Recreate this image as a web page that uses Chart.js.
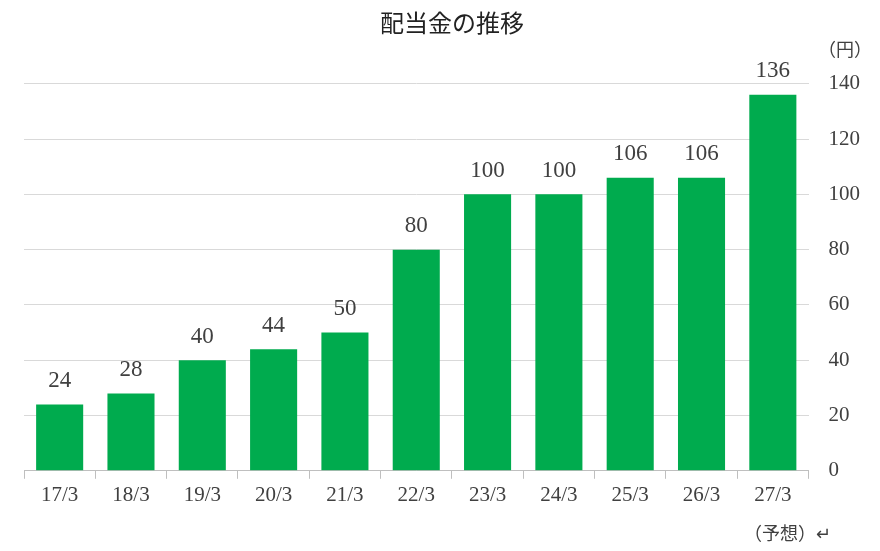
<!DOCTYPE html>
<html><head><meta charset="utf-8">
<script src="https://cdn.jsdelivr.net/npm/chart.js@4/dist/chart.umd.min.js"></script>
<style>body{margin:0;background:#fff}#wrap{width:880px;height:551px}</style>
</head><body><div id="wrap"><canvas id="c"></canvas></div>
<script>
const categories = ['17/3','18/3','19/3','20/3','21/3','22/3','23/3','24/3','25/3','26/3','27/3'];
const dividends = [24, 28, 40, 44, 50, 80, 100, 100, 106, 106, 136];
const tickValues = [0, 20, 40, 60, 80, 100, 120, 140];

const numFont = '"Liberation Serif", "Noto Sans CJK JP", serif';
const jpFont = '"Noto Sans CJK JP", sans-serif';

// labels above bars and extra text
const extras = {
  id: 'extras',
  afterDatasetsDraw(chart) {
    const ctx = chart.ctx;
    const meta = chart.getDatasetMeta(0);
    ctx.save();
    ctx.fillStyle = '#404040';
    ctx.font = '23px ' + numFont;
    ctx.textAlign = 'center';
    ctx.textBaseline = 'bottom';
    meta.data.forEach((bar, i) => {
      ctx.fillText(String(dividends[i]), bar.x, bar.y - 12);
    });
    ctx.font = '18px ' + jpFont;
    ctx.fillText('（円）', 845, 58);
    ctx.textAlign = 'left';
    ctx.fillText('（予想）↵', 744, 542);
    ctx.restore();
  }
};

new Chart(document.getElementById('c'), {
  type: 'bar',
  data: {
    labels: categories,
    datasets: [{
      data: dividends,
      backgroundColor: '#00AB4E',
      barPercentage: 0.66,
      categoryPercentage: 1
    }]
  },
  options: {
    responsive: true,
    maintainAspectRatio: false,
    animation: false,
    layout: { padding: { left: 24, right: 0, top: 0, bottom: 39 } },
    plugins: {
      legend: { display: false },
      tooltip: { enabled: false },
      title: {
        display: true,
        text: '配当金の推移',
        color: '#222',
        font: { family: jpFont, size: 24, weight: 'normal' },
        padding: { top: 8, bottom: 47 }
      }
    },
    scales: {
      x: {
        grid: { display: true, drawOnChartArea: false, color: '#bfbfbf', tickLength: 8, offset: true },
        border: { color: '#bfbfbf' },
        ticks: { color: '#404040', font: { family: numFont, size: 21 }, padding: 4 }
      },
      y: {
        position: 'right',
        min: 0, max: 140,
        afterBuildTicks(axis) { axis.ticks = tickValues.map(v => ({ value: v })); },
        grid: { color: '#d9d9d9', drawTicks: false },
        border: { display: false },
        ticks: { color: '#404040', font: { family: numFont, size: 21 }, padding: 20 }
      }
    }
  },
  plugins: [extras]
});
</script></body></html>
